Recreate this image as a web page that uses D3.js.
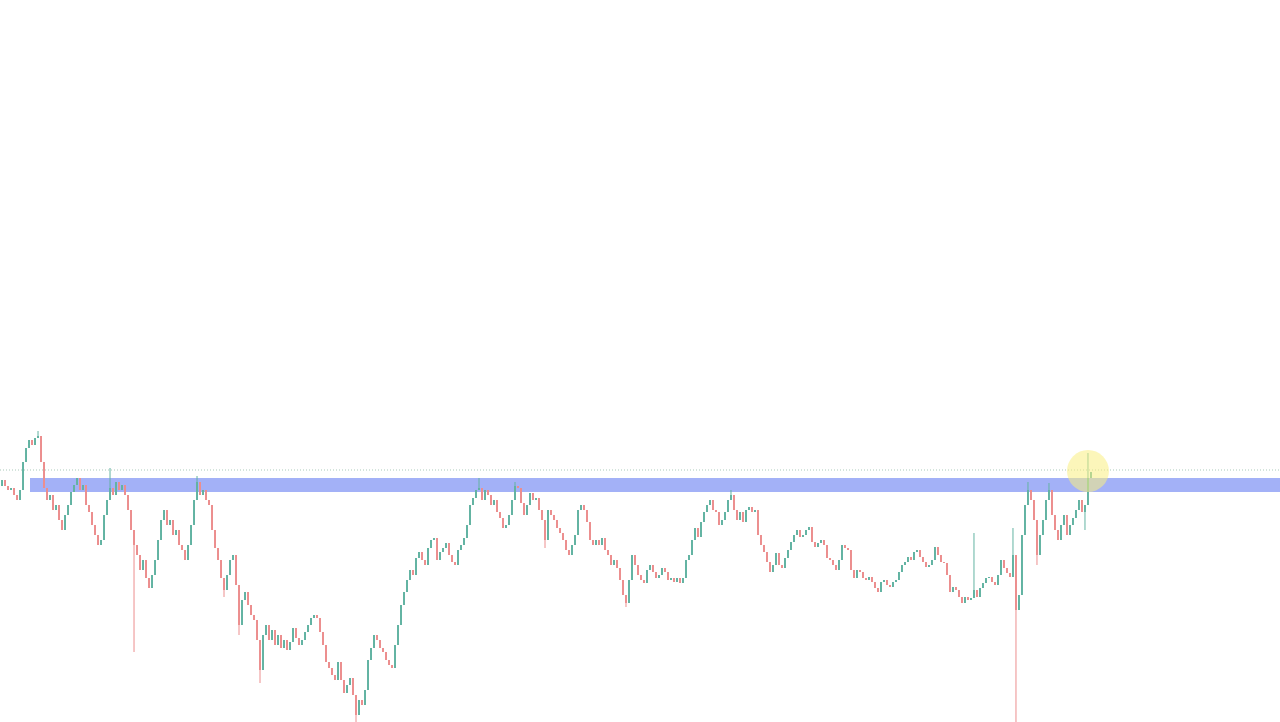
<!DOCTYPE html>
<html>
<head>
<meta charset="utf-8">
<script src="https://cdn.jsdelivr.net/npm/d3@7"></script>
<style>
  html, body { margin: 0; padding: 0; background: #fff; overflow: hidden; }
  svg { display: block; }
</style>
</head>
<body>
<div id="chart"></div>
<script>
// close of every bar, in price points (one bar per column)
const closes = [
  242,236,232,234,227,222,232,260,274,282,277,284,286,260,234,222,227,212,217,202,
  192,207,217,230,237,244,232,237,217,210,197,187,177,182,207,222,234,227,240,232,
  237,227,212,192,177,167,152,162,144,134,147,162,182,202,212,197,202,187,192,177,
  172,162,177,197,222,240,227,232,222,217,192,174,162,144,132,147,162,167,137,97,
  122,130,117,107,102,82,52,87,97,82,92,77,87,74,82,72,80,94,84,77,
  82,90,97,104,107,104,90,77,60,54,47,42,60,42,29,37,44,27,7,22,
  17,32,62,74,87,82,74,70,62,57,54,77,97,117,130,142,152,147,164,170,
  162,157,174,182,184,162,170,174,179,167,160,157,172,177,184,197,217,224,232,234,
  222,232,227,217,222,210,204,194,197,207,222,236,234,219,207,217,229,222,224,212,
  202,182,212,207,202,194,189,182,172,167,177,187,212,217,212,200,182,177,182,177,
  184,172,167,157,162,154,142,127,119,142,167,157,147,142,139,152,157,150,144,147,
  154,150,142,144,140,144,139,144,162,167,182,194,185,200,210,217,222,212,210,197,
  202,210,222,227,212,202,210,200,212,215,210,212,187,177,170,160,150,157,169,157,
  154,164,172,180,187,192,185,187,192,195,180,175,179,182,177,164,162,157,152,162,
  177,174,172,152,144,152,150,144,142,145,140,134,130,140,142,137,135,140,142,150,
  157,160,165,162,170,172,165,160,155,157,162,175,167,160,159,147,130,135,132,125,
  119,125,122,124,132,125,134,139,144,145,140,137,147,162,154,149,145,167,112,127,
  187,217,232,222,202,167,187,202,222,232,207,192,182,197,207,187,197,204,212,222,
  210,217,244,250
];
const startOpen = 236;

// long shadows: bar index, high, low
const spikeIdx  = [12, 36, 44, 65, 74, 79, 86, 118, 159, 171, 181, 208, 243, 324, 337, 338, 342, 345, 349, 361, 362];
const spikeHigh = [291, 254, null, 246, null, null, null, null, 244, 240, null, null, 232, 189, 194, null, 240, null, 239, null, 269];
const spikeLow  = [null, null, 70, null, 125, 87, 39, -8, null, null, 174, 115, null, null, null, -12, null, 157, null, 192, null];

// horizontal levels
const resistanceTop = 244;
const resistanceBottom = 230;
const dottedLevel = 252;
const markerIdx = 362;
const markerPrice = 251;

const width = 1280;
const height = 722;

const candles = closes.map((c, i) => {
  const o = i === 0 ? startOpen : closes[i - 1];
  let h = Math.max(o, c), l = Math.min(o, c);
  const k = spikeIdx.indexOf(i);
  if (k >= 0) {
    if (spikeHigh[k] !== null) h = spikeHigh[k];
    if (spikeLow[k] !== null) l = spikeLow[k];
  }
  return { i: i, open: o, close: c, high: h, low: l };
});

const x = d3.scaleBand()
  .domain(candles.map(d => d.i))
  .range([0, 1093])
  .padding(0.35);

const y = d3.scaleLinear()
  .domain([0, 722])
  .range([height, 0]);

const svg = d3.select('#chart').append('svg')
  .attr('width', width)
  .attr('height', height);

// dotted level
svg.append('line')
  .attr('x1', 0).attr('x2', width)
  .attr('y1', y(dottedLevel)).attr('y2', y(dottedLevel))
  .attr('stroke', '#a9c9b9')
  .attr('stroke-width', 1)
  .attr('stroke-dasharray', '1,2');

// resistance zone
svg.append('rect')
  .attr('x', 30)
  .attr('y', y(resistanceTop))
  .attr('width', width - 30)
  .attr('height', y(resistanceBottom) - y(resistanceTop))
  .attr('fill', '#a3b1f7');

const up = '#62b3a2';
const down = '#ec8e8e';

const bar = svg.append('g')
  .selectAll('g')
  .data(candles)
  .join('g')
    .attr('transform', d => `translate(${x(d.i) + x.bandwidth() / 2},0)`);

bar.append('line')
  .attr('y1', d => y(d.high))
  .attr('y2', d => y(d.low))
  .attr('stroke', d => d.close >= d.open ? up : down)
  .attr('stroke-width', 1);

bar.append('rect')
  .attr('x', -x.bandwidth() / 2)
  .attr('y', d => y(Math.max(d.open, d.close)))
  .attr('width', x.bandwidth())
  .attr('height', d => Math.max(1, Math.abs(y(d.open) - y(d.close))))
  .attr('fill', d => d.close >= d.open ? up : down);

// highlight of the breakout
svg.append('circle')
  .attr('cx', x(markerIdx) + x.bandwidth() / 2)
  .attr('cy', y(markerPrice))
  .attr('r', 21)
  .attr('fill', 'rgba(250, 238, 130, 0.55)');
</script>
</body>
</html>
